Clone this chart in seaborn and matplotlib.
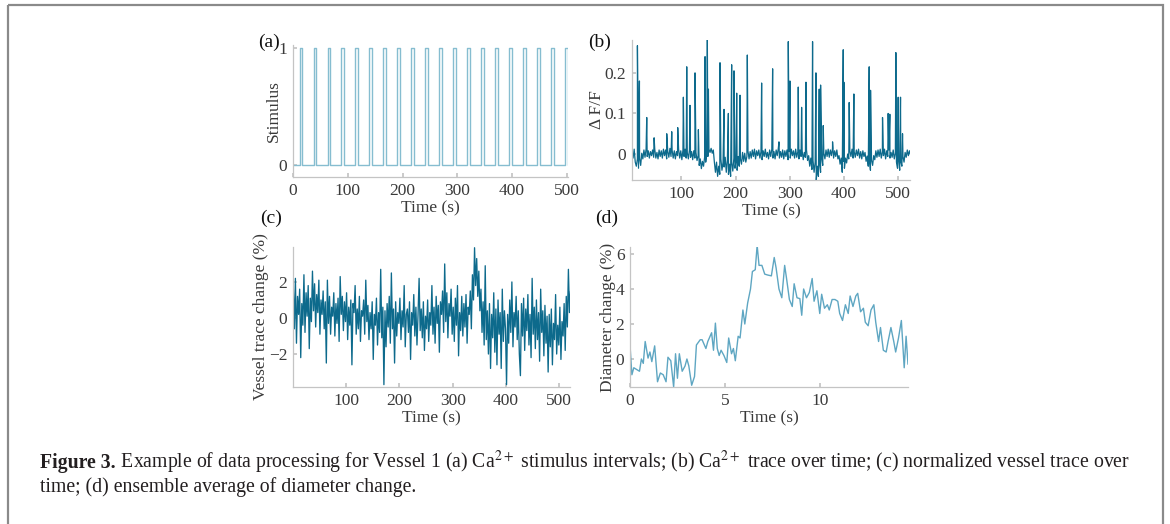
import numpy as np
import pandas as pd
import matplotlib
matplotlib.use("Agg")
import matplotlib.pyplot as plt
import seaborn as sns
from matplotlib.patches import Rectangle

sns.set_theme(style="white")
plt.rcParams['font.family'] = ['Liberation Serif', 'DejaVu Serif']
plt.rcParams['mathtext.fontset'] = 'stix'

# ==============================
# DATA
# ==============================
# (a) stimulus onsets (s) and pulse width
stim_onsets = [12, 37.5, 63, 88.5, 114, 139.5, 165, 190.5, 216, 241.5,
               267, 292.5, 318, 343.5, 369, 394.5, 420, 445.5, 471, 496.5]
stim_width = 5
stim_end = 502

# (b) Ca2+ trace: baseline every 2 s from t=9 s, plus transient peaks
ca_t0, ca_dt = 9, 2
ca_base = [
    0.008, -0.01, 0.012, -0.02, -0.03, -0.012, -0.035, -0.01, -0.028, 0.002,
    -0.012, 0.01, -0.008, 0.012, -0.006, 0.008, -0.01, 0.006, -0.004, 0.01,
    -0.008, 0.012, -0.01, 0.004, -0.012, 0.01, -0.006, 0.008, -0.01, 0.012,
    -0.004, 0.01, -0.012, 0.006, -0.008, 0.014, -0.006, 0.01, -0.01, 0.008,
    -0.012, 0.006, -0.004, 0.012, -0.01, 0.008, -0.014, 0.01, -0.006, 0.012,
    -0.01, 0.004, -0.012, 0.01, -0.008, 0.006, -0.014, 0.008, -0.01, 0.004,
    -0.016, -0.004, -0.028, -0.012, -0.036, -0.018, -0.03, -0.008, -0.02, 0.004,
    -0.006, 0.012, 0.004, 0.014, 0.002, 0.01, -0.02, -0.045, -0.02, -0.055,
    -0.03, -0.05, -0.012, -0.04, -0.02, -0.032, -0.008, -0.045, -0.015, -0.05,
    -0.025, -0.055, -0.02, -0.042, -0.01, -0.035, -0.018, -0.04, -0.006, -0.03,
    -0.012, -0.025, 0.004, -0.018, 0.002, -0.02, -0.006, 0.008, -0.012, 0.006,
    -0.01, 0.01, -0.006, 0.012, -0.012, 0.008, -0.004, 0.01, -0.01, 0.006,
    -0.014, 0.008, -0.006, 0.012, -0.008, 0.004, -0.012, 0.01, -0.006, 0.012,
    -0.01, 0.006, -0.012, 0.01, -0.004, 0.014, -0.01, 0.006, -0.008, 0.01,
    -0.012, 0.008, -0.006, 0.01, -0.014, 0.006, -0.01, 0.012, -0.004, 0.008,
    -0.01, 0.012, -0.008, 0.006, -0.012, 0.01, -0.006, 0.008, -0.014, 0.004,
    -0.008, 0.01, -0.016, -0.004, -0.03, -0.01, -0.038, -0.015, -0.045, -0.02,
    -0.065, -0.03, -0.055, -0.02, -0.045, -0.01, -0.028, 0.002, -0.012, 0.01,
    -0.006, 0.012, -0.008, 0.01, -0.004, 0.014, -0.01, 0.008, -0.006, 0.01,
    -0.012, -0.004, -0.025, -0.01, -0.045, -0.018, -0.035, -0.01, -0.022, 0.0,
    -0.012, 0.008, -0.006, 0.012, -0.01, 0.006, -0.008, 0.01, -0.004, 0.012,
    -0.01, 0.006, -0.012, 0.008, -0.006, 0.004, -0.018, -0.005, -0.03, -0.012,
    -0.04, -0.015, -0.028, -0.004, -0.014, 0.008, -0.008, 0.01, -0.006, 0.012,
    -0.01, 0.006, -0.004, 0.012, -0.012, 0.008, -0.006, 0.01, -0.01, 0.004,
    -0.008, 0.01, -0.012, 0.002, -0.02, -0.035, -0.012, -0.04, -0.018, -0.03,
    -0.006, -0.02, 0.004, -0.008, 0.01, -0.004, 0.008, -0.002,
]
ca_peak_t = [19.0, 22.7, 36.2, 49.8, 73.1, 82.3, 93.4, 103.8, 110.0, 116.0,
             125.3, 131.5, 143.8, 148.0, 150.0, 171.4, 178.8, 186.8, 192.9, 197.2,
             202.2, 208.3, 221.8, 248.2, 268.5, 280.2, 297.4, 300.5, 315.8, 322.0,
             330.0, 342.2, 348.4, 354.5, 357.0, 361.9, 379.1, 398.8, 400.0, 409.8,
             418.4, 446.7, 449.2, 471.3, 481.7, 484.8, 495.9, 500.2, 504.5, 508.2]
ca_peak_v = [0.267, 0.18, 0.09, 0.04, 0.05, 0.055, 0.065, 0.14, 0.215, 0.12,
             0.2, 0.06, 0.24, 0.288, 0.16, 0.225, 0.11, 0.1, 0.22, 0.205,
             0.15, 0.145, 0.244, 0.175, 0.21, 0.03, 0.277, 0.18, 0.165, 0.115,
             0.177, 0.277, 0.2, 0.16, 0.17, 0.07, 0.03, 0.257, 0.177, 0.127,
             0.148, 0.215, 0.157, 0.09, 0.1, 0.098, 0.25, 0.14, 0.14, 0.05]

# (c) normalized vessel trace (%), every 2 s from t=1 s
vt_t0, vt_dt = 1, 2
vessel = [
    1.8, -0.6, 2.2, -1.4, 1.2, 0.2, 1.6, -2.2, 0.8, -0.4,
    2.4, -0.8, 1.4, 0.1, 1.8, -1.7, 1.1, -0.2, 2.6, 0.4,
    1.9, -0.5, 1.3, 0.3, 2.1, -0.9, 1.0, 0.2, 1.5, -0.6,
    0.9, -2.5, 2.1, -0.3, 1.2, -0.9, 0.6, 0.1, 1.4, -1.0,
    0.8, -0.3, 1.1, -1.3, 2.3, 0.2, 1.2, -0.7, 0.9, -0.2,
    1.4, -1.2, 0.6, -0.4, 1.0, -2.6, 0.8, 0.3, 1.8, -0.9,
    0.5, -0.6, 1.2, -1.3, 0.4, 0.1, 1.0, -0.9, 2.1, -0.2,
    0.7, -1.2, 0.3, -0.6, 0.9, -2.3, 0.2, -0.4, 1.1, -1.5,
    0.3, -0.8, 2.7, -1.1, 0.6, -3.7, 0.4, -1.6, 0.8, -0.5,
    1.2, -1.4, 2.5, -0.6, 0.5, -2.5, 0.9, -1.0, 0.3, -0.3,
    1.1, -1.2, 0.4, -0.5, 1.8, -1.6, 0.2, 0.5, -0.8, 0.9,
    -2.3, 0.3, -0.4, 1.3, -1.0, 0.6, -1.5, 0.2, 2.2, -0.7,
    0.5, -1.1, 0.9, -1.8, 0.1, -0.6, 1.0, -1.3, 0.3, -0.4,
    1.8, -0.9, 0.6, -1.4, 1.2, -0.3, 0.7, -1.9, 0.9, 0.2,
    1.5, -0.8, 3.0, -0.2, 1.4, -1.1, 0.8, 0.1, 1.6, -0.9,
    0.6, -1.3, 1.1, -0.4, 1.8, -2.1, 0.3, -0.7, 1.2, -1.0,
    0.8, -0.5, 1.3, -1.4, 0.6, 0.2, 1.5, -0.6, 2.4, 1.0,
    3.9, 1.8, 3.3, 1.2, 2.6, 0.4, 1.6, -0.8, 0.9, -1.5,
    2.9, -1.2, 0.4, -2.0, 0.8, -2.8, 0.2, -1.1, 1.4, -1.9,
    0.5, -2.6, 1.0, -0.9, 0.3, -2.8, 1.6, -1.3, 0.4, -0.6,
    -3.7, 0.2, -1.4, 1.0, -0.8, 2.0, -1.6, 0.3, -0.5, 1.2,
    -1.2, 0.4, -2.0, -3.2, 0.8, -1.0, 1.1, -1.8, 0.5, -0.7,
    1.3, -1.5, 0.2, -2.2, 2.2, -0.9, 0.6, -1.7, 1.0, -1.2,
    0.3, -2.4, 1.6, -0.8, 0.4, -2.1, 0.7, -1.4, 0.1, -3.0,
    0.2, -1.6, 0.5, -2.6, -0.3, -1.2, 1.3, -2.0, -0.4, -1.5,
    0.6, -2.3, -0.2, -1.0, 0.8, -1.8, 1.2, -0.5, 2.7, 0.3,
    1.5,
]

# (d) ensemble average of diameter change
diam_t = [0.0, 0.1, 0.2, 0.35, 0.5, 0.6, 0.7, 0.8, 0.95, 1.05, 1.15, 1.3, 1.45,
          1.6, 1.75, 1.9, 2.0, 2.15, 2.3, 2.4, 2.5, 2.6, 2.75, 2.9, 3.0, 3.1,
          3.25, 3.4, 3.5, 3.7, 3.8, 4.0, 4.1, 4.3, 4.4, 4.5, 4.6, 4.7, 4.8, 4.95,
          5.1, 5.2, 5.35, 5.45, 5.55, 5.7, 5.8, 5.95, 6.05, 6.2, 6.35, 6.45, 6.6,
          6.7, 6.8, 6.95, 7.1, 7.25, 7.45, 7.6, 7.7, 7.85, 8.0, 8.15, 8.25, 8.4,
          8.55, 8.65, 8.8, 8.95, 9.05, 9.15, 9.3, 9.45, 9.6, 9.7, 9.85, 10.0,
          10.1, 10.25, 10.4, 10.5, 10.65, 10.8, 10.95, 11.05, 11.2, 11.35, 11.5,
          11.6, 11.75, 11.9, 12.0, 12.15, 12.3, 12.4, 12.55, 12.7, 12.85, 12.95,
          13.1, 13.2, 13.35, 13.5, 13.6, 13.75, 13.9, 14.0, 14.15, 14.3, 14.45,
          14.55, 14.65]
diam_v = [0.8, -0.9, -0.5, -0.6, -0.7, 0.0, -0.25, 1.0, 0.05, 0.4, -0.15, 0.75,
          -1.3, -0.8, -0.9, -1.3, 0.1, -0.1, -1.6, 0.3, -1.1, 0.3, -0.7, -0.4,
          0.0, -0.4, -1.5, -1.0, 0.8, 1.1, 1.1, 0.6, 1.0, 1.5, 0.5, 2.05, 0.6,
          0.2, 0.5, 0.2, -0.2, 1.2, 0.3, 0.6, -0.1, 1.3, 1.2, 2.8, 2.0, 3.2,
          4.0, 5.0, 5.1, 6.5, 5.35, 5.35, 4.85, 4.8, 4.75, 5.8, 5.2, 4.0, 3.5,
          5.35, 4.6, 3.4, 3.0, 4.3, 3.5, 3.45, 2.5, 4.0, 3.5, 3.8, 4.6, 3.3,
          3.9, 2.6, 3.7, 2.9, 3.1, 2.8, 3.4, 3.4, 3.3, 2.6, 2.2, 3.1, 2.6, 3.6,
          3.0, 3.6, 3.75, 2.7, 2.9, 2.1, 1.9, 2.8, 3.1, 2.1, 1.0, 1.8, 0.5,
          0.4, 1.0, 1.8, 1.0, 0.4, 1.2, 2.2, -0.5, 1.3, -0.3]

# ==============================
# BUILD SERIES
# ==============================
stim_x, stim_y = [0], [0]
for on in stim_onsets:
    stim_x += [on, on, on + stim_width, on + stim_width]
    stim_y += [0, 1, 1, 0]
stim_x.append(stim_end)
stim_y.append(0)

ca_time = ca_t0 + ca_dt * np.arange(len(ca_base))
ca_df = pd.DataFrame({'t': np.concatenate([ca_time, ca_peak_t]),
                      'v': np.concatenate([ca_base, ca_peak_v])}).sort_values('t', kind='stable')

vt_df = pd.DataFrame({'t': vt_t0 + vt_dt * np.arange(len(vessel)), 'v': vessel})

# ==============================
# FIGURE
# ==============================
light = '#86bdd0'
mid = '#5ea6c2'
dark = '#0d6a8c'
spine_c = '#c4c4c4'
txt_c = '#3a3a3a'
fs = 12.5

fig = plt.figure(figsize=(11.7, 5.24), dpi=100)
W, H = 1170, 524


def make_ax(l, r, t, b):
    return fig.add_axes([l / W, (H - b) / H, (r - l) / W, (b - t) / H])


def style(ax):
    sns.despine(ax=ax)
    for s in ['left', 'bottom']:
        ax.spines[s].set_color(spine_c)
        ax.spines[s].set_linewidth(0.9)
    ax.tick_params(direction='in', length=3, color=spine_c, labelsize=fs,
                   labelcolor=txt_c, pad=4, left=True, bottom=True)
    ax.set_facecolor('none')


ax_a = make_ax(293, 568, 45, 177)
sns.lineplot(x=stim_x, y=stim_y, sort=False, estimator=None, color=light, lw=1.0, ax=ax_a)
ax_a.set_xlim(0, stim_end)
ax_a.set_ylim(-0.1, 1.026)
ax_a.set_xticks([0, 100, 200, 300, 400, 500])
ax_a.set_yticks([0, 1])
ax_a.set_xlabel('Time (s)', fontsize=fs, color=txt_c, labelpad=1)
ax_a.set_ylabel('Stimulus', fontsize=fs, color=txt_c, labelpad=-2)
style(ax_a)

ax_b = make_ax(632, 910, 40, 180)
sns.lineplot(data=ca_df, x='t', y='v', sort=False, estimator=None, color=dark, lw=0.9, ax=ax_b)
ax_b.set_xlim(9, 522)
ax_b.set_ylim(-0.064, 0.281)
ax_b.set_xticks([100, 200, 300, 400, 500])
ax_b.set_yticks([0, 0.1, 0.2])
ax_b.set_yticklabels(['0', '0.1', '0.2'])
ax_b.set_xlabel('Time (s)', fontsize=fs, color=txt_c, labelpad=1)
ax_b.set_ylabel('Δ F/F', fontsize=fs, color=txt_c, labelpad=0)
style(ax_b)

ax_c = make_ax(293, 570, 247, 387)
sns.lineplot(data=vt_df, x='t', y='v', sort=False, estimator=None, color=dark, lw=0.95, ax=ax_c)
ax_c.set_xlim(0.5, 520)
ax_c.set_ylim(-3.83, 3.94)
ax_c.set_xticks([100, 200, 300, 400, 500])
ax_c.set_yticks([-2, 0, 2])
ax_c.set_xlabel('Time (s)', fontsize=fs, color=txt_c, labelpad=1)
ax_c.set_ylabel('Vessel trace change (%)', fontsize=fs, color=txt_c, labelpad=0)
style(ax_c)

ax_d = make_ax(630, 908, 247, 387)
sns.lineplot(x=diam_t, y=diam_v, sort=False, estimator=None, color=mid, lw=1.0, ax=ax_d)
ax_d.set_xlim(0, 14.65)
ax_d.set_ylim(-1.6, 6.4)
ax_d.set_xticks([0, 5, 10])
ax_d.set_yticks([0, 2, 4, 6])
ax_d.set_xlabel('Time (s)', fontsize=fs, color=txt_c, labelpad=1)
ax_d.set_ylabel('Diameter change (%)', fontsize=fs, color=txt_c, labelpad=0)
style(ax_d)

# panel letters
for lab, x, y in [('(a)', 258, 42), ('(b)', 588, 42), ('(c)', 260, 218), ('(d)', 595, 218)]:
    fig.text(x / W, 1 - y / H, lab, fontsize=14, color='#111111', va='center', ha='left')

# frame and caption
ov = fig.add_axes([0, 0, 1, 1])
ov.set_axis_off()
ov.set_xlim(0, W)
ov.set_ylim(H, 0)
ov.add_patch(Rectangle((8, 5), 1155, 540, fill=False, ec='#8a8a8a', lw=1.6, clip_on=False))

cap_fs = 14.2
cap_c = '#231f20'
t1 = ov.text(40, 468, 'Figure 3.', fontsize=cap_fs, fontweight='bold', color=cap_c, va='baseline')
renderer = fig.canvas.get_renderer()
x1 = ov.transData.inverted().transform(t1.get_window_extent(renderer=renderer))[1, 0]
ov.text(x1, 468, ' Example of data processing for Vessel 1 (a) Ca$^{2+}$ stimulus intervals; (b) Ca$^{2+}$ '
        'trace over time; (c) normalized vessel trace over',
        fontsize=cap_fs, color=cap_c, va='baseline', ha='left')
ov.text(40, 492, 'time; (d) ensemble average of diameter change.', fontsize=cap_fs,
        color=cap_c, va='baseline')

fig.savefig('out.png', dpi=100)
